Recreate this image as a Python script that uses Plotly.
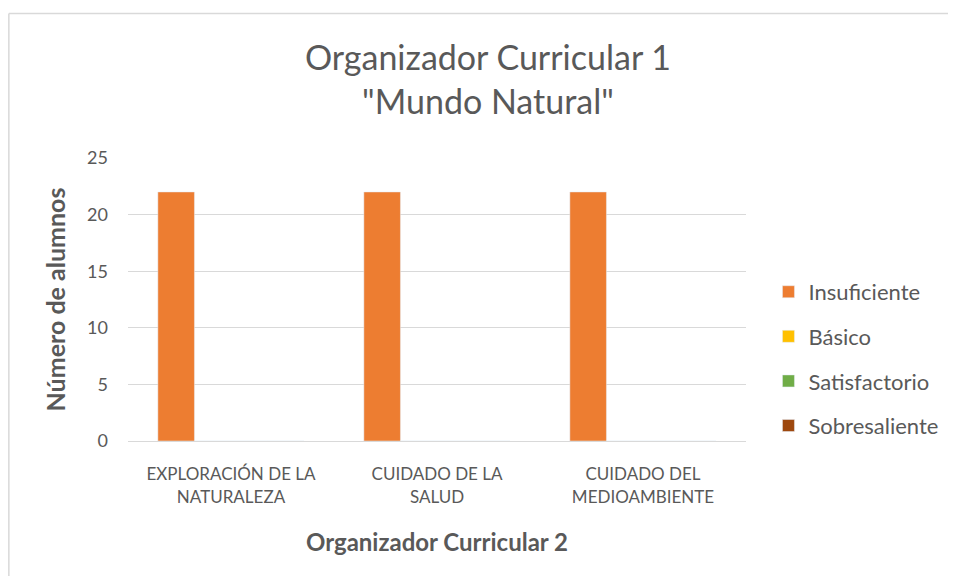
import plotly.graph_objects as go

categories = ["EXPLORACIÓN DE LA<br>NATURALEZA", "CUIDADO DE LA<br>SALUD", "CUIDADO DEL<br>MEDIOAMBIENTE"]
series_names = ["Insuficiente", "Básico", "Satisfactorio", "Sobresaliente"]
insuficiente = [22, 22, 22]
basico = [0, 0, 0]
satisfactorio = [0, 0, 0]
sobresaliente = [0, 0, 0]
colors = ["#ED7D31", "#FFC000", "#70AD47", "#9E480E"]

fig = go.Figure()
for name, vals, col in zip(series_names, [insuficiente, basico, satisfactorio, sobresaliente], colors):
    fig.add_trace(go.Bar(x=categories, y=vals, name=name, marker_color=col,
                         legendgroup=name))

font_family = "Lato, 'Open Sans', sans-serif"
fig.update_layout(
    width=940, height=568,
    paper_bgcolor="white", plot_bgcolor="white",
    margin=dict(l=120, r=202, t=150, b=135),
    barmode="group", bargap=0.29, bargroupgap=0,
    font=dict(family=font_family, color="#595959", size=17),
    title=dict(text="Organizador Curricular 1<br>\"Mundo Natural\"",
               x=0.5106, xanchor="center", xref="container", yref="container",
               y=0.891, yanchor="top",
               font=dict(size=34, color="#595959")),
    xaxis=dict(title=dict(text="<b>Organizador Curricular 2</b>", font=dict(size=24), standoff=28),
               showline=True, linecolor="#D9D9D9", linewidth=1, ticks="",
               ticklabelstandoff=18, tickfont=dict(size=17)),
    yaxis=dict(title=dict(text="<b>Número de alumnos</b>", font=dict(size=25), standoff=14),
               range=[0, 25], dtick=5, showgrid=True, gridcolor="#D9D9D9", gridwidth=1,
               zeroline=False, showline=False, ticks="", ticklabelstandoff=19,
               tickfont=dict(size=18)),
    legend=dict(xref="container", x=0.809, xanchor="left", y=0.29, yanchor="middle",
                font=dict(size=22, color="#595959"), tracegroupgap=13,
                itemwidth=30),
    showlegend=True,
)
fig.add_shape(type="line", xref="paper", yref="paper", x0=-0.1928, x1=1.4, y0=1.5106, y1=1.5106,
              line=dict(color="#D9D9D9", width=1.5))
fig.add_shape(type="line", xref="paper", yref="paper", x0=-0.1928, x1=-0.1928, y0=1.5106, y1=-0.6,
              line=dict(color="#D9D9D9", width=1.5))
fig.write_html("out.html")
